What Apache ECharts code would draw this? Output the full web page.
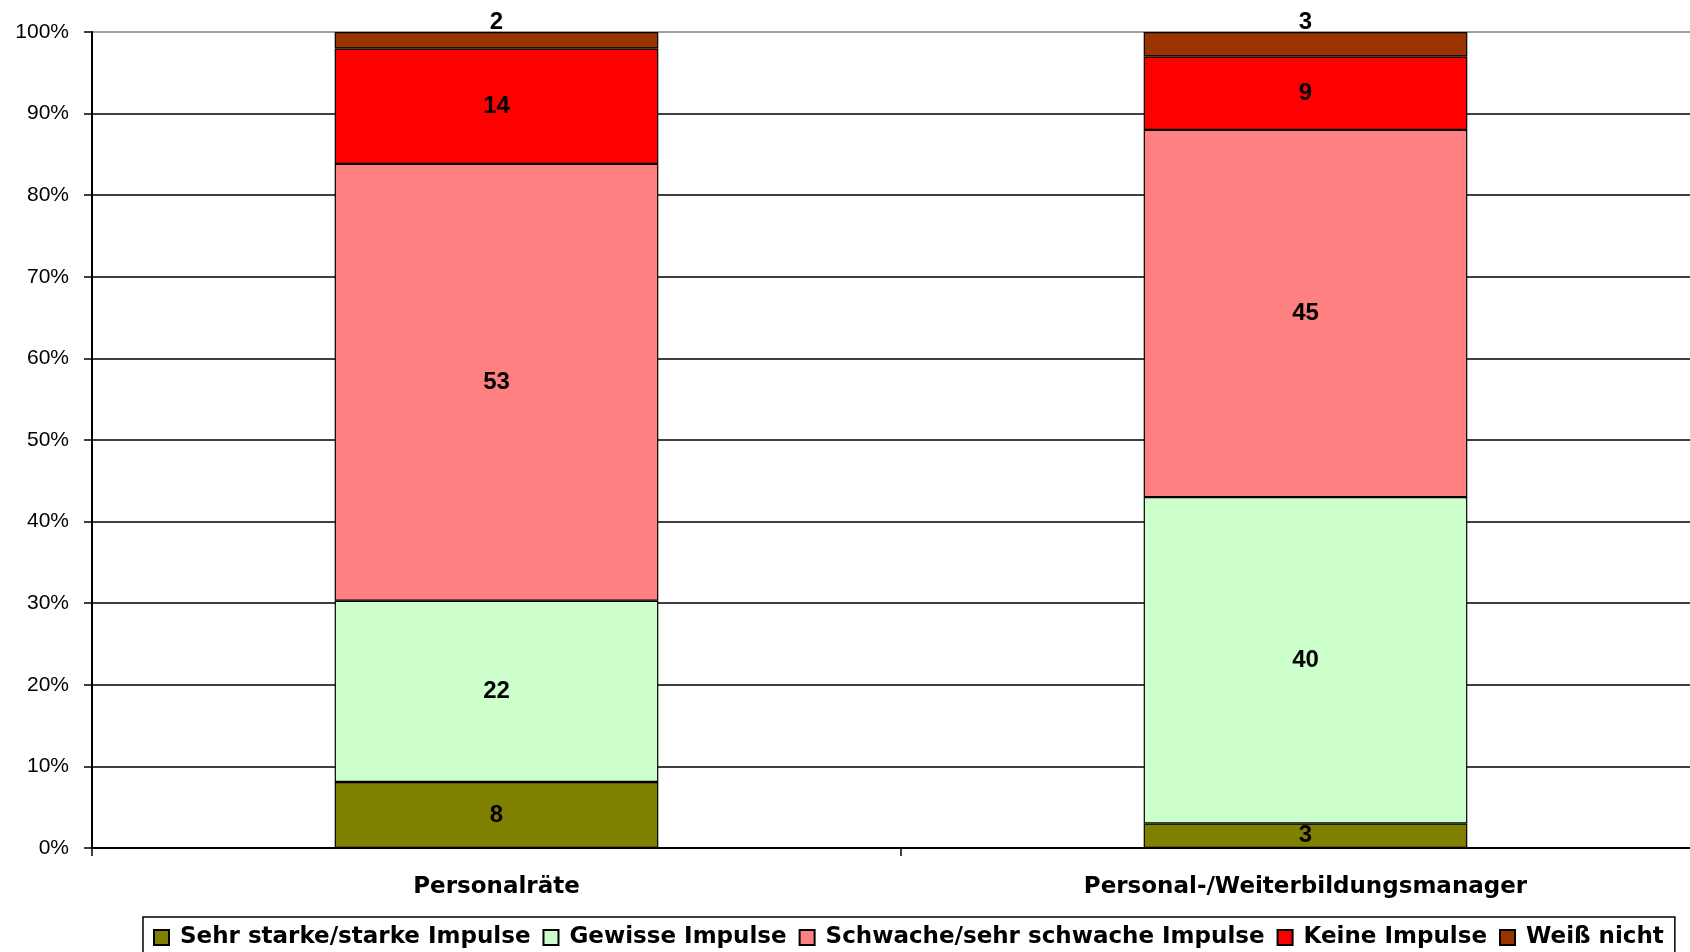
<!DOCTYPE html>
<html>
<head>
<meta charset="utf-8">
<script src="https://cdn.jsdelivr.net/npm/echarts@6/dist/echarts.min.js"></script>
<style>
html,body{margin:0;padding:0;background:#fff;}
#chart{width:1690px;height:952px;}
</style>
</head>
<body>
<div id="chart"></div>
<script>
const categories = ['Personalräte', 'Personal-/Weiterbildungsmanager'];
const seriesNames = ['Sehr starke/starke Impulse', 'Gewisse Impulse', 'Schwache/sehr schwache Impulse', 'Keine Impulse', 'Weiß nicht'];
const sehrStarke = [8, 3];
const gewisse = [22, 40];
const schwache = [53, 45];
const keine = [14, 9];
const weissNicht = [2, 3];
const seriesColors = ['#808000', '#CCFFCC', '#FF8080', '#FF0000', '#993300'];
const yTickValues = [0, 10, 20, 30, 40, 50, 60, 70, 80, 90, 100];

const rawSeries = [sehrStarke, gewisse, schwache, keine, weissNicht];
const totals = categories.map((c, i) => rawSeries.reduce((s, arr) => s + arr[i], 0));

const series = rawSeries.map((arr, k) => ({
  name: seriesNames[k],
  type: 'bar',
  stack: 'total',
  barWidth: '40%',
  data: arr.map((v, i) => ({ value: v / totals[i] * 100, raw: v })),
  itemStyle: { color: seriesColors[k], borderColor: '#000', borderWidth: 1.2 },
  label: {
    show: true,
    position: k === 4 ? 'top' : 'inside',
    distance: k === 4 ? -2 : 0,
    color: '#000',
    fontFamily: 'Liberation Sans, Arial, sans-serif',
    fontWeight: 'bold',
    fontSize: 24,
    formatter: p => String(p.data.raw)
  }
}));

const splitColors = yTickValues.map((v, i) => i === yTickValues.length - 1 ? '#808080' : '#000');

const chart = echarts.init(document.getElementById('chart'), null, { renderer: 'canvas' });
chart.setOption({
  animation: false,
  backgroundColor: '#fff',
  grid: { left: 92, right: -20, top: 32, bottom: 104, containLabel: false, outerBoundsMode: 'none' },
  xAxis: {
    type: 'category',
    data: categories,
    axisLine: { lineStyle: { color: '#000', width: 2 } },
    axisTick: { show: true, length: 8, alignWithLabel: false, lineStyle: { color: '#000', width: 1.5 } },
    axisLabel: {
      margin: 28,
      color: '#000',
      fontFamily: 'DejaVu Sans, sans-serif',
      fontWeight: 'bold',
      fontSize: 23
    }
  },
  yAxis: {
    type: 'value',
    min: 0,
    max: 100,
    interval: 10,
    axisLine: { show: true, lineStyle: { color: '#000', width: 2 } },
    axisTick: { show: true, length: 8, lineStyle: { color: '#000', width: 1.5 } },
    splitLine: { show: true, lineStyle: { color: splitColors, width: 1.5 } },
    axisLabel: {
      margin: 23,
      color: '#000',
      fontFamily: 'Liberation Sans, Arial, sans-serif',
      fontSize: 21,
      formatter: '{value}%'
    }
  },
  legend: {
    left: 143,
    top: 917,
    orient: 'horizontal',
    padding: [9, 11, 20, 10],
    itemGap: 12,
    itemWidth: 15,
    itemHeight: 15,
    icon: 'rect',
    borderColor: '#000',
    borderWidth: 1.5,
    textStyle: {
      color: '#000',
      fontFamily: 'DejaVu Sans, sans-serif',
      fontWeight: 'bold',
      fontSize: 23,
      padding: [0, 0, 0, 6]
    },
    data: seriesNames
  },
  series: series
});
</script>
</body>
</html>
